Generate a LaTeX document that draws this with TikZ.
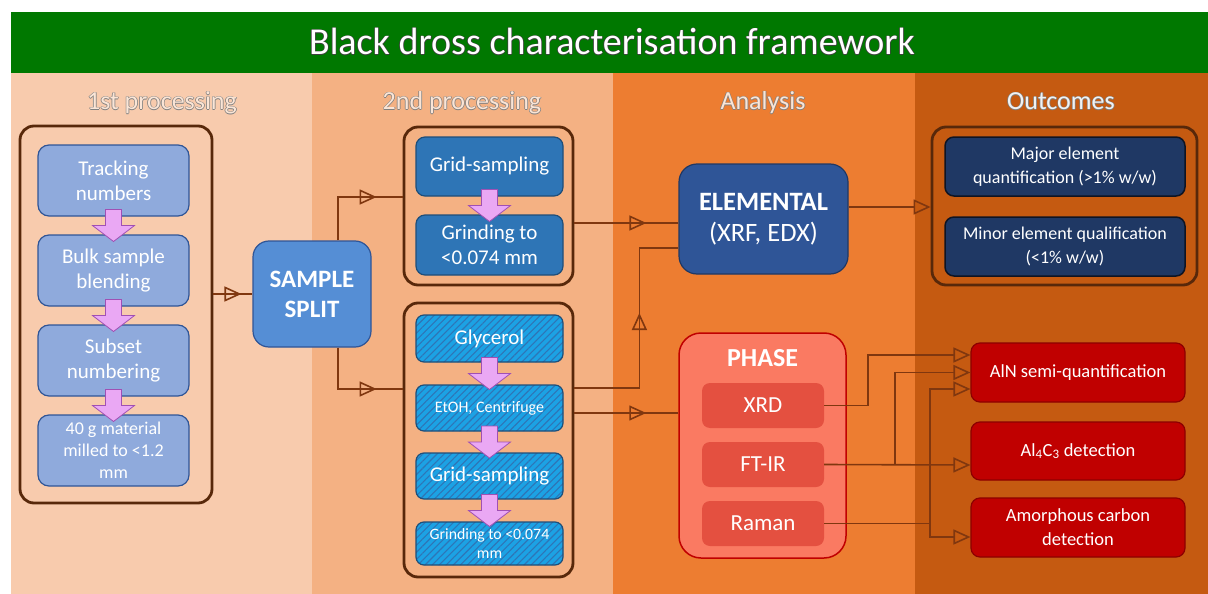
\documentclass[tikz,border=0pt]{standalone}
\usepackage{fontspec}
\setmainfont{Carlito}
\usetikzlibrary{positioning,calc,arrows.meta,decorations.markings,patterns.meta}

\definecolor{bannergreen}{RGB}{0,120,0}
\definecolor{colone}{RGB}{248,203,173}
\definecolor{coltwo}{RGB}{244,177,131}
\definecolor{colthree}{RGB}{237,125,49}
\definecolor{colfour}{RGB}{197,90,17}
\definecolor{framebrown}{RGB}{88,40,10}
\definecolor{linkbrown}{RGB}{128,55,15}
\definecolor{paleblue}{RGB}{143,170,220}
\definecolor{paleedge}{RGB}{47,85,151}
\definecolor{midblue}{RGB}{46,117,182}
\definecolor{midedge}{RGB}{31,78,121}
\definecolor{splitblue}{RGB}{85,142,213}
\definecolor{skyblue}{RGB}{28,162,228}
\definecolor{hatchblue}{RGB}{46,117,182}
\definecolor{elemblue}{RGB}{47,85,151}
\definecolor{elemedge}{RGB}{32,56,100}
\definecolor{navyfill}{RGB}{31,56,100}
\definecolor{navyedge}{RGB}{15,20,35}
\definecolor{phasefill}{RGB}{250,122,98}
\definecolor{phaseedge}{RGB}{192,0,0}
\definecolor{techfill}{RGB}{228,80,64}
\definecolor{outred}{RGB}{192,0,0}
\definecolor{outrededge}{RGB}{140,0,0}
\definecolor{pinkfill}{RGB}{234,168,244}
\definecolor{pinkedge}{RGB}{160,80,180}
\definecolor{headlight}{RGB}{251,229,214}
\definecolor{headgrey}{RGB}{242,242,242}

% text with a thin outline
\newcommand{\edged}[3]{\rlap{\kern-.7pt\textcolor{#1}{#3}}\rlap{\kern.7pt\textcolor{#1}{#3}}\rlap{\raisebox{.7pt}{\textcolor{#1}{#3}}}\rlap{\raisebox{-.7pt}{\textcolor{#1}{#3}}}\textcolor{#2}{#3}}

\tikzset{openhead/.tip={Triangle[open,length=17pt,width=15pt]}}
\tikzset{headtext/.style={anchor=base,font=\fontsize{26}{30}\selectfont}}
\tikzset{outerbox/.style={draw=framebrown,line width=2.8pt,rounded corners=14pt,inner sep=0pt}}
\tikzset{firstbox/.style={draw=paleedge,fill=paleblue,line width=1.2pt,rounded corners=11pt,text=white,align=center,inner sep=0pt,minimum width=151pt,minimum height=71pt,font=\fontsize{21}{25}\selectfont}}
\tikzset{secondbox/.style={draw=midedge,fill=midblue,line width=1.2pt,rounded corners=9pt,text=white,align=center,inner sep=0pt,minimum width=147pt,minimum height=60pt,font=\fontsize{21}{25}\selectfont}}
\tikzset{hatchbox/.style={draw=midedge,preaction={fill=skyblue},pattern={Lines[angle=45,distance=5pt,line width=1.1pt]},pattern color=hatchblue,line width=1.2pt,rounded corners=8pt,text=white,align=center,inner sep=0pt,minimum width=147pt,minimum height=46pt,font=\fontsize{21}{25}\selectfont}}
\tikzset{splitbox/.style={draw=paleedge,fill=splitblue,line width=1.2pt,rounded corners=16pt,text=white,align=center,inner sep=0pt,minimum width=118pt,minimum height=106pt,font=\bfseries\fontsize{25}{30}\selectfont}}
\tikzset{elembox/.style={draw=elemedge,fill=elemblue,line width=1.2pt,rounded corners=18pt,text=white,align=center,inner sep=0pt,minimum width=169pt,minimum height=110pt,font=\fontsize{26.5}{31}\selectfont}}
\tikzset{phasebox/.style={draw=phaseedge,fill=phasefill,line width=1.5pt,rounded corners=22pt,inner sep=0pt,minimum width=167pt,minimum height=225pt}}
\tikzset{techbox/.style={fill=techfill,rounded corners=8pt,text=white,inner sep=0pt,minimum width=122pt,minimum height=45pt,font=\fontsize{23}{27}\selectfont}}
\tikzset{navybox/.style={draw=navyedge,fill=navyfill,line width=1.5pt,rounded corners=9pt,text=white,align=center,inner sep=0pt,minimum width=240pt,minimum height=59pt,font=\fontsize{18}{24}\selectfont}}
\tikzset{redbox/.style={draw=outrededge,fill=outred,line width=1.2pt,rounded corners=9pt,text=white,align=center,inner sep=0pt,minimum width=214pt,minimum height=59pt,font=\fontsize{18.5}{24}\selectfont}}
\tikzset{link/.style={draw=linkbrown,line width=1.6pt,postaction={decorate},decoration={markings,mark=at position #1 with {\arrow{openhead}}}}}
\tikzset{linkend/.style={draw=linkbrown,line width=1.6pt,-openhead}}
\tikzset{pics/pinkdown/.style={code={\filldraw[fill=pinkfill,draw=pinkedge,line width=0.8pt] (-8,-16) -- (8,-16) -- (8,0) -- (21,0) -- (0,16) -- (-21,0) -- (-8,0) -- cycle;}}}

\begin{document}
\begin{tikzpicture}[x=1pt,y=-1pt]
\useasboundingbox (0,0) rectangle (1208,594);
% bands
\fill[bannergreen] (11,12) rectangle (1208,73);
\fill[colone] (11,73) rectangle (312,594);
\fill[coltwo] (312,73) rectangle (613,594);
\fill[colthree] (613,73) rectangle (915,594);
\fill[colfour] (915,73) rectangle (1208,594);

\node[anchor=base,font=\fontsize{38}{42}\selectfont] (title) at (612,55) {\edged{darkgray}{white}{Black dross characterisation framework}};
\node[headtext] (hfirst) at (162,110) {\edged{gray}{headlight}{1st processing}};
\node[headtext] (hsecond) at (462,110) {\edged{gray}{headlight}{2nd processing}};
\node[headtext] (hanalysis) at (763,110) {\edged{gray}{headlight}{Analysis}};
\node[headtext] (houtcomes) at (1061,110) {\edged{gray}{headgrey}{Outcomes}};

% 1st processing
\node[outerbox,minimum width=192pt,minimum height=377pt] (firstgrp) at (116,314.5) {};
\node[firstbox] (track) at (113.5,180.5) {Tracking\\numbers};
\node[firstbox] (blend) at (113.5,270.5) {Bulk sample\\blending};
\node[firstbox] (subset) at (113.5,360.5) {Subset\\numbering};
\node[firstbox,font=\fontsize{18}{22}\selectfont] (mill) at (113.5,450.5) {40 g material\\milled to <1.2\\mm};
\foreach \a/\b in {track/blend,blend/subset,subset/mill}
  \pic at ($(\a.south)!0.5!(\b.north)$) {pinkdown};

\node[splitbox] (split) at (312,294) {SAMPLE\\SPLIT};

% 2nd processing
\node[outerbox,minimum width=169pt,minimum height=158pt] (topgrp) at (488.5,206) {};
\node[secondbox,minimum height=59pt] (grid) at (489.5,166.5) {Grid-sampling};
\node[secondbox] (grind) at (489.5,245) {Grinding to\\<0.074 mm};
\pic at ($(grid.south)!0.5!(grind.north)$) {pinkdown};
\node[outerbox,minimum width=169pt,minimum height=274pt] (lowgrp) at (488.5,440) {};
\node[hatchbox,minimum height=47pt] (glyc) at (489.5,338.5) {Glycerol};
\node[hatchbox,font=\fontsize{16}{19}\selectfont] (etoh) at (489.5,408) {EtOH, Centrifuge};
\node[hatchbox] (gridb) at (489.5,476) {Grid-sampling};
\node[hatchbox,minimum height=43pt,font=\fontsize{15.8}{19}\selectfont] (grindb) at (489.5,543.5) {Grinding to <0.074\\mm};
\foreach \a/\b in {glyc/etoh,etoh/gridb,gridb/grindb}
  \pic at ($(\a.south)!0.5!(\b.north)$) {pinkdown};

% analysis
\node[elembox] (elem) at (763.5,219) {\textbf{ELEMENTAL}\\(XRF, EDX)};
\node[phasebox] (phase) at (762.5,445.5) {};
\node[text=white,font=\bfseries\fontsize{26}{30}\selectfont] (phasettl) at (762.5,358) {PHASE};
\node[techbox] (xrd) at (763,405.5) {XRD};
\node[techbox] (ftir) at (763,464.5) {FT-IR};
\node[techbox] (raman) at (763,523.5) {Raman};

% outcomes
\node[outerbox,minimum width=265pt,minimum height=158pt] (outgrp) at (1064.5,206) {};
\node[navybox] (major) at (1065,166.5) {Major element\\quantification (>1\% w/w)};
\node[navybox] (minor) at (1065,246.5) {Minor element qualification\\(<1\% w/w)};
\node[redbox] (aln) at (1078,372.5) {AlN semi-quantification};
\node[redbox,minimum height=58pt] (alc) at (1078,451) {Al\textsubscript{4}C\textsubscript{3} detection};
\node[redbox] (amorph) at (1078,527.5) {Amorphous carbon\\detection};

% connectors
\draw[link=-11pt] (firstgrp.east |- split.west) -- (split.west);
\draw[link=-26pt] ([xshift=26pt]split.north) |- ([yshift=9pt]topgrp.west);
\draw[link=-26pt] ([xshift=26pt]split.south) |- ([yshift=51pt]lowgrp.west);
\draw[link=-32pt] ([yshift=-17pt]topgrp.east) -- ([yshift=-4pt]elem.west);
\draw[link=140pt] ([yshift=52pt]lowgrp.east) -- ++(65,0) |- ([yshift=-29pt]elem.west);
\draw[link=-32pt] ([yshift=27pt]lowgrp.east) -- ([yshift=32.5pt]phase.west);
\draw[linkend] ([yshift=12pt]elem.east) -- ([yshift=-1pt]outgrp.west);
\draw[linkend] (xrd.east) -- ++(44,0) |- ([yshift=17.5pt]aln.west);
\draw[linkend] (ftir.east) -- ([yshift=-14pt]alc.west);
\draw[linkend] (ftir.east) -- ++(71,0) |- (aln.west);
\draw[linkend] (raman.east) -- ++(106,0) |- ([yshift=-16.5pt]aln.west);
\draw[linkend] (raman.east) -- ++(106,0) |- ([yshift=-9.5pt]amorph.west);
\end{tikzpicture}
\end{document}
